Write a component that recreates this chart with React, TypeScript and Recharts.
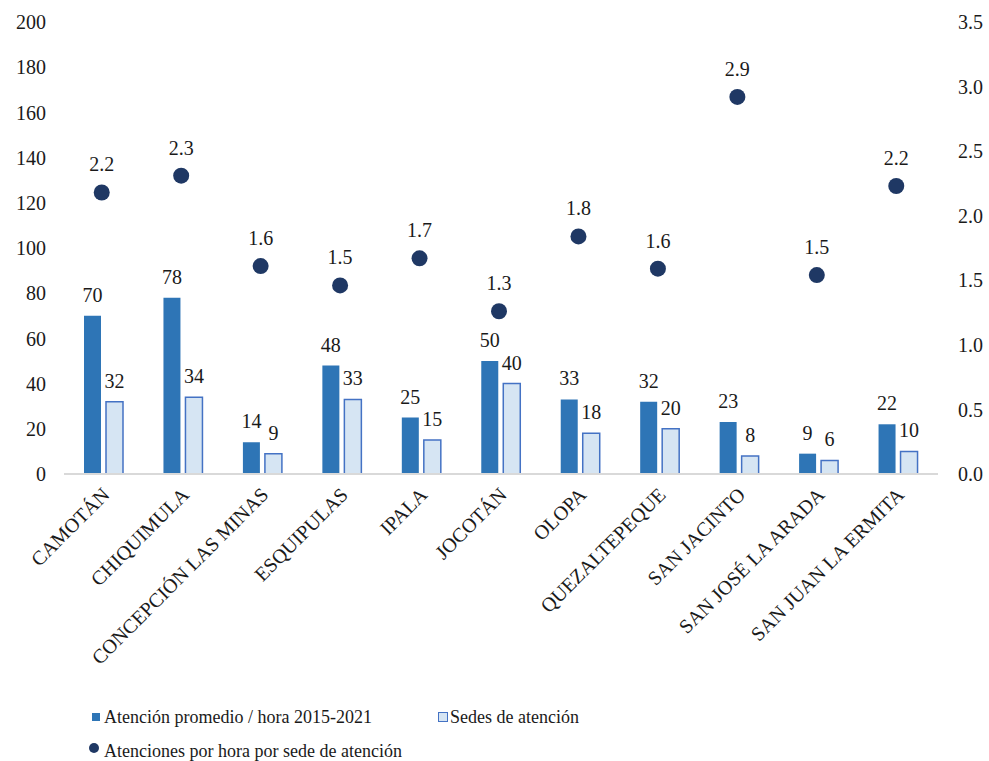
import React from "react";
import { ComposedChart, Bar, Line, XAxis, YAxis, LabelList } from "recharts";

// municipios del departamento
const municipios = [
  "CAMOTÁN",
  "CHIQUIMULA",
  "CONCEPCIÓN LAS MINAS",
  "ESQUIPULAS",
  "IPALA",
  "JOCOTÁN",
  "OLOPA",
  "QUEZALTEPEQUE",
  "SAN JACINTO",
  "SAN JOSÉ LA ARADA",
  "SAN JUAN LA ERMITA",
];

const atencionPromedio = [70, 78, 14, 48, 25, 50, 33, 32, 23, 9, 22];
const sedesAtencion = [32, 34, 9, 33, 15, 40, 18, 20, 8, 6, 10];
const atencionesPorSede = [2.18, 2.31, 1.61, 1.46, 1.67, 1.26, 1.84, 1.59, 2.92, 1.54, 2.23];

const leftTicks = [0, 20, 40, 60, 80, 100, 120, 140, 160, 180, 200];
const rightTicks = [0, 0.5, 1, 1.5, 2, 2.5, 3, 3.5];

const data = municipios.map((name, i) => ({
  name,
  promedio: atencionPromedio[i],
  sedes: sedesAtencion[i],
  ratio: atencionesPorSede[i],
}));

const FONT = "'Liberation Serif', serif";
const TEXT = "#1a1a1a";

const CategoryTick = (props: any) => {
  const { x, y, payload } = props;
  const ax = x + 7;
  const ay = y + 22;
  return (
    <text
      x={ax}
      y={ay}
      transform={`rotate(-45 ${ax} ${ay})`}
      textAnchor="end"
      fontFamily={FONT}
      fontSize={20}
      fill={TEXT}
    >
      {payload.value}
    </text>
  );
};

// punto con su etiqueta encima
const RatioDot = (props: any) => {
  const { cx, cy, payload } = props;
  if (cx == null || cy == null) return null;
  return (
    <g key={payload.name}>
      <circle cx={cx - 2} cy={cy} r={8} fill="#1F3864" />
      <text x={cx - 2} y={cy - 21} textAnchor="middle" fontFamily={FONT} fontSize={20} fill={TEXT}>
        {payload.ratio.toFixed(1)}
      </text>
    </g>
  );
};

const legendText: React.CSSProperties = {
  position: "absolute",
  fontFamily: FONT,
  fontSize: 18,
  lineHeight: "18px",
  color: TEXT,
  whiteSpace: "nowrap",
};

export default function App() {
  return (
    <div style={{ position: "absolute", left: 0, top: 0, width: 989, height: 761, background: "#fff" }}>
      <ComposedChart
        width={989}
        height={761}
        data={data}
        margin={{ top: 22, right: 0, bottom: 0, left: 0 }}
        barSize={17}
        barGap={5}
      >
        <XAxis
          dataKey="name"
          interval={0}
          height={287}
          tickLine={false}
          tickSize={0}
          tickMargin={0}
          axisLine={{ stroke: "#d9d9d9", strokeWidth: 2 }}
          tick={<CategoryTick />}
        />
        <YAxis
          yAxisId="left"
          width={64}
          domain={[0, 200]}
          ticks={leftTicks}
          axisLine={false}
          tickLine={false}
          tickSize={0}
          tickMargin={18}
          tick={{ fontFamily: FONT, fontSize: 20, fill: TEXT }}
        />
        <YAxis
          yAxisId="right"
          orientation="right"
          width={51}
          domain={[0, 3.5]}
          ticks={rightTicks}
          axisLine={false}
          tickLine={false}
          tickSize={0}
          tickMargin={20}
          tickFormatter={(v: number) => v.toFixed(1)}
          tick={{ fontFamily: FONT, fontSize: 20, fill: TEXT, textAnchor: "start" }}
        />
        <Bar yAxisId="left" dataKey="promedio" fill="#2E75B6" isAnimationActive={false}>
          <LabelList dataKey="promedio" position="top" offset={14} fontFamily={FONT} fontSize={20} fill={TEXT} />
        </Bar>
        <Bar
          yAxisId="left"
          dataKey="sedes"
          fill="#D6E5F3"
          stroke="#4472C4"
          strokeWidth={1.5}
          isAnimationActive={false}
        >
          <LabelList dataKey="sedes" position="top" offset={14} fontFamily={FONT} fontSize={20} fill={TEXT} />
        </Bar>
        <Line
          yAxisId="right"
          dataKey="ratio"
          stroke="none"
          dot={<RatioDot />}
          activeDot={false}
          isAnimationActive={false}
        />
      </ComposedChart>

      <div style={{ position: "absolute", left: 92, top: 713, width: 8, height: 8, background: "#2E75B6" }} />
      <div style={{ ...legendText, left: 104, top: 708 }}>Atención promedio / hora 2015-2021</div>
      <div
        style={{
          position: "absolute",
          left: 438,
          top: 712,
          width: 8,
          height: 8,
          background: "#D6E5F3",
          border: "1.5px solid #4472C4",
        }}
      />
      <div style={{ ...legendText, left: 450, top: 708 }}>Sedes de atención</div>
      <div
        style={{
          position: "absolute",
          left: 89,
          top: 743,
          width: 10,
          height: 10,
          borderRadius: "50%",
          background: "#1F3864",
        }}
      />
      <div style={{ ...legendText, left: 104, top: 742 }}>Atenciones por hora por sede de atención</div>
    </div>
  );
}
